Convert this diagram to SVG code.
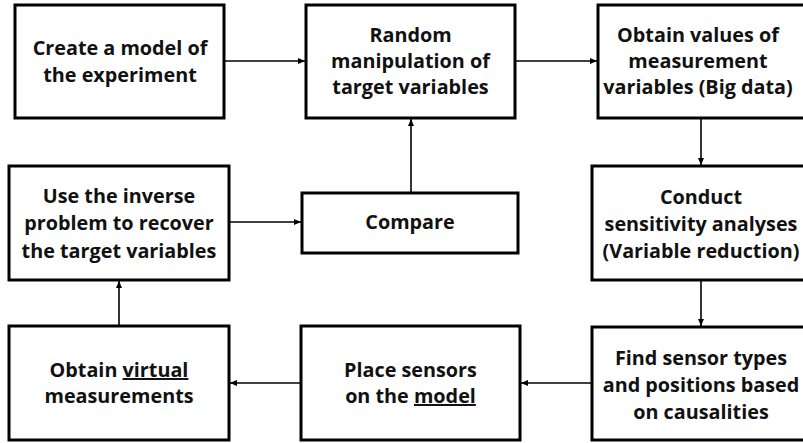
<svg xmlns="http://www.w3.org/2000/svg" width="803" height="443" viewBox="0 0 803 443">
<defs>
<style>
.box{fill:#fff;stroke:#000;stroke-width:3}
.lbl{font-family:"Open Sans","Liberation Sans",sans-serif;font-weight:bold;font-size:19.8px;fill:#111;text-anchor:middle}
.con{stroke:#000;stroke-width:1.6;fill:none;marker-end:url(#ah)}
</style>
<marker id="ah" markerUnits="userSpaceOnUse" markerWidth="8" markerHeight="8" viewBox="0 0 8 8" refX="7" refY="4" orient="auto">
<path d="M0,1 L7,4 L0,7 z" fill="#000"/>
</marker>
</defs>
<rect width="803" height="443" fill="#fff"/>
<g id="connectors">
<line class="con" x1="224" y1="61" x2="305" y2="61"/>
<line class="con" x1="515" y1="61" x2="597" y2="61"/>
<line class="con" x1="701" y1="118" x2="701" y2="165"/>
<line class="con" x1="701" y1="280" x2="701" y2="326"/>
<line class="con" x1="592" y1="383" x2="521" y2="383"/>
<line class="con" x1="301" y1="383" x2="230" y2="383"/>
<line class="con" x1="119" y1="326" x2="119" y2="281"/>
<line class="con" x1="229" y1="222" x2="301" y2="222"/>
<line class="con" x1="411" y1="193" x2="411" y2="119"/>
</g>
<g id="n1">
<rect class="box" x="15" y="5" width="209" height="113"/>
<text class="lbl" x="120" y="55">Create a model of</text>
<text class="lbl" x="120" y="82">the experiment</text>
</g>
<g id="n2">
<rect class="box" x="306" y="5" width="209" height="113"/>
<text class="lbl" x="410.5" y="42">Random</text>
<text class="lbl" x="410.5" y="68">manipulation of</text>
<text class="lbl" x="410.5" y="94">target variables</text>
</g>
<g id="n3">
<rect class="box" x="598" y="5" width="208" height="113"/>
<text class="lbl" x="698" y="42">Obtain values of</text>
<text class="lbl" x="698" y="68">measurement</text>
<text class="lbl" x="698" y="94">variables (Big data)</text>
</g>
<g id="n4">
<rect class="box" x="592" y="166" width="214" height="114"/>
<text class="lbl" x="701" y="204">Conduct</text>
<text class="lbl" x="701" y="231">sensitivity analyses</text>
<text class="lbl" x="701" y="258">(Variable reduction)</text>
</g>
<g id="n5">
<rect class="box" x="592" y="327" width="214" height="113"/>
<text class="lbl" x="701" y="365">Find sensor types</text>
<text class="lbl" x="701" y="392">and positions based</text>
<text class="lbl" x="701" y="419">on causalities</text>
</g>
<g id="n6">
<rect class="box" x="301" y="326" width="219" height="114"/>
<text class="lbl" x="410.5" y="377">Place sensors</text>
<text class="lbl" x="410.5" y="403">on the <tspan text-decoration="underline">model</tspan></text>
</g>
<g id="n7">
<rect class="box" x="9" y="326" width="220" height="114"/>
<text class="lbl" x="119" y="377">Obtain <tspan text-decoration="underline">virtual</tspan></text>
<text class="lbl" x="119" y="403">measurements</text>
</g>
<g id="n8">
<rect class="box" x="9" y="166" width="220" height="114"/>
<text class="lbl" x="119" y="203">Use the inverse</text>
<text class="lbl" x="119" y="230">problem to recover</text>
<text class="lbl" x="119" y="258">the target variables</text>
</g>
<g id="n9">
<rect class="box" x="302" y="193" width="216" height="60"/>
<text class="lbl" x="410" y="229">Compare</text>
</g>
</svg>
